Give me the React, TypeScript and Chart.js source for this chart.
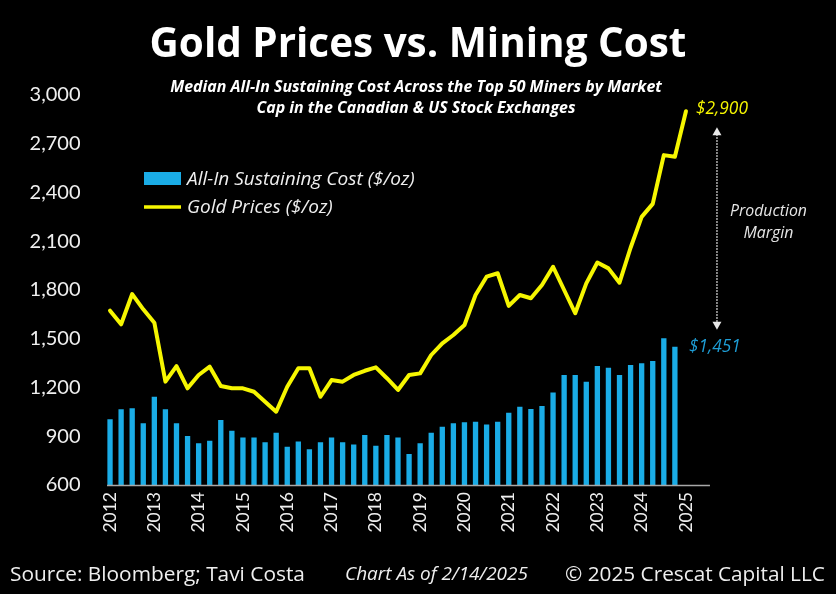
import React, { useEffect, useRef } from "react";
import { Chart, registerables } from "chart.js";

Chart.register(...registerables);

const YEARS = [2012, 2013, 2014, 2015, 2016, 2017, 2018, 2019, 2020, 2021, 2022, 2023, 2024];
const QUARTERS = ["Q1", "Q2", "Q3", "Q4"];
const categories: string[] = [];
YEARS.forEach((y) => QUARTERS.forEach((q) => categories.push(`${y} ${q}`)));
categories.push("2025 Q1");

// All-In Sustaining Cost ($/oz), quarterly 2012 Q1 - 2024 Q4
const aisc: (number | null)[] = [
  1004, 1066, 1072, 980, 1143, 1066, 980, 902, 857, 873, 1000, 934, 893,
  893, 863, 922, 836, 867, 820, 863, 893, 863, 850, 908, 842, 908, 893,
  791, 857, 922, 959, 980, 986, 990, 973, 990, 1045, 1082, 1068, 1086,
  1170, 1277, 1277, 1236, 1332, 1322, 1277, 1338, 1349, 1363, 1503, 1451,
  null,
];

// Gold price ($/oz), quarterly 2012 Q1 - 2025 Q1
const gold: number[] = [
  1673, 1589, 1775, 1681, 1599, 1236, 1332, 1195, 1277, 1328, 1209, 1195,
  1195, 1174, 1113, 1051, 1205, 1318, 1318, 1143, 1246, 1236, 1277, 1303,
  1324, 1257, 1185, 1277, 1287, 1400, 1472, 1523, 1585, 1769, 1882, 1903,
  1702, 1769, 1749, 1831, 1943, 1800, 1657, 1841, 1969, 1933, 1845, 2060,
  2250, 2330, 2630, 2620, 2900,
];

const yTicks = [600, 900, 1200, 1500, 1800, 2100, 2400, 2700, 3000];

const TITLE = "Gold Prices vs. Mining Cost";
const SUBTITLE = [
  "Median All-In Sustaining Cost Across the Top 50 Miners by Market",
  "Cap in the Canadian & US Stock Exchanges",
];
const LEGEND_BAR = "All-In Sustaining Cost ($/oz)";
const LEGEND_LINE = "Gold Prices ($/oz)";
const GOLD_LABEL = "$2,900";
const AISC_LABEL = "$1,451";
const MARGIN_LABEL = ["Production", "Margin"];
const SOURCE = "Source: Bloomberg; Tavi Costa";
const ASOF = "Chart As of 2/14/2025";
const COPY = "© 2025 Crescat Capital LLC";

const BLUE = "#1AACE6";
const BLUE_TEXT = "#1E9ED6";
const YELLOW = "#F6F600";
const TEXT = "#EFEFEF";
const FONT = "Lato, 'DejaVu Sans', sans-serif";
const WIDE = "'Open Sans', 'DejaVu Sans', sans-serif";

function sizeFor(ctx: CanvasRenderingContext2D, text: string, style: string, family: string, width: number) {
  ctx.font = `${style} 100px ${family}`;
  const w = ctx.measureText(text).width;
  return (100 * width) / w;
}

const decorPlugin = {
  id: "decor",
  afterDraw(chart: any) {
    const ctx = chart.ctx as CanvasRenderingContext2D;
    const xs = chart.scales.x;
    const ys = chart.scales.y;
    const area = chart.chartArea;
    ctx.save();

    // x axis line
    ctx.strokeStyle = "#A8A8A8";
    ctx.lineWidth = 1.5;
    ctx.beginPath();
    ctx.moveTo(xs.getPixelForValue(0) - 3, area.bottom + 0.5);
    ctx.lineTo(xs.getPixelForValue(categories.length - 1) + 24, area.bottom + 0.5);
    ctx.stroke();

    ctx.textBaseline = "alphabetic";

    // title
    ctx.fillStyle = "#FFFFFF";
    ctx.textAlign = "center";
    let s = sizeFor(ctx, TITLE, "bold", WIDE, 537);
    ctx.font = `bold ${s}px ${WIDE}`;
    ctx.fillText(TITLE, 418, 57);

    // subtitle
    s = sizeFor(ctx, SUBTITLE[0], "italic bold", WIDE, 492);
    ctx.font = `italic bold ${s}px ${WIDE}`;
    ctx.fillText(SUBTITLE[0], 416, 92);
    ctx.fillText(SUBTITLE[1], 416, 113);

    // legend
    ctx.textAlign = "left";
    ctx.fillStyle = BLUE;
    ctx.fillRect(144, 172, 37, 13);
    ctx.strokeStyle = YELLOW;
    ctx.lineWidth = 3.5;
    ctx.beginPath();
    ctx.moveTo(144, 207);
    ctx.lineTo(181, 207);
    ctx.stroke();
    ctx.fillStyle = TEXT;
    s = sizeFor(ctx, LEGEND_BAR, "italic", WIDE, 228);
    ctx.font = `italic ${s}px ${WIDE}`;
    ctx.fillText(LEGEND_BAR, 187, 184.5);
    ctx.fillText(LEGEND_LINE, 187, 213);

    // end labels
    const lastIdx = gold.length - 1;
    const gx = xs.getPixelForValue(lastIdx);
    const gy = ys.getPixelForValue(gold[lastIdx]);
    s = sizeFor(ctx, GOLD_LABEL, "italic", WIDE, 52);
    ctx.font = `italic ${s}px ${WIDE}`;
    ctx.fillStyle = YELLOW;
    ctx.fillText(GOLD_LABEL, gx + 10, gy + 3);
    const bIdx = 51;
    const bx = xs.getPixelForValue(bIdx);
    const by = ys.getPixelForValue(aisc[bIdx] as number);
    ctx.fillStyle = BLUE_TEXT;
    ctx.fillText(AISC_LABEL, bx + 14, by + 5);

    // production margin arrow
    const ax = gx + 31;
    const top = gy + 16;
    const bottom = by - 17;
    ctx.strokeStyle = "#E8E8E8";
    ctx.lineWidth = 1.5;
    ctx.setLineDash([1.5, 1.5]);
    ctx.beginPath();
    ctx.moveTo(ax, top + 7);
    ctx.lineTo(ax, bottom - 7);
    ctx.stroke();
    ctx.setLineDash([]);
    ctx.fillStyle = "#E8E8E8";
    ctx.beginPath();
    ctx.moveTo(ax, top);
    ctx.lineTo(ax - 4.5, top + 8);
    ctx.lineTo(ax + 4.5, top + 8);
    ctx.closePath();
    ctx.fill();
    ctx.beginPath();
    ctx.moveTo(ax, bottom);
    ctx.lineTo(ax - 4.5, bottom - 8);
    ctx.lineTo(ax + 4.5, bottom - 8);
    ctx.closePath();
    ctx.fill();

    ctx.textAlign = "center";
    s = sizeFor(ctx, MARGIN_LABEL[0], "italic", WIDE, 77);
    ctx.font = `italic ${s}px ${WIDE}`;
    ctx.fillStyle = "#E6E6E6";
    ctx.fillText(MARGIN_LABEL[0], 768.5, 216);
    ctx.fillText(MARGIN_LABEL[1], 768.5, 237.5);

    // footer
    ctx.textAlign = "left";
    ctx.textBaseline = "middle";
    ctx.fillStyle = TEXT;
    s = sizeFor(ctx, SOURCE, "", WIDE, 295);
    ctx.font = `${s}px ${WIDE}`;
    ctx.fillText(SOURCE, 10, 575);
    s = sizeFor(ctx, COPY, "", WIDE, 260);
    ctx.font = `${s}px ${WIDE}`;
    ctx.fillText(COPY, 565, 575);
    s = sizeFor(ctx, ASOF, "italic", WIDE, 183);
    ctx.font = `italic ${s}px ${WIDE}`;
    ctx.fillText(ASOF, 345, 575);

    ctx.restore();
  },
};

export default function App() {
  const ref = useRef<HTMLCanvasElement | null>(null);

  useEffect(() => {
    if (!ref.current) return;
    const chart = new Chart(ref.current, {
      type: "bar",
      data: {
        labels: categories,
        datasets: [
          {
            type: "line",
            label: LEGEND_LINE,
            data: gold,
            borderColor: YELLOW,
            backgroundColor: YELLOW,
            borderWidth: 4,
            pointRadius: 0,
            tension: 0,
            borderJoinStyle: "round",
            borderCapStyle: "round",
            order: 0,
          } as any,
          {
            type: "bar",
            label: LEGEND_BAR,
            data: aisc,
            backgroundColor: BLUE,
            barPercentage: 0.48,
            categoryPercentage: 1,
            order: 1,
          } as any,
        ],
      },
      options: {
        responsive: true,
        maintainAspectRatio: false,
        animation: false,
        layout: { padding: { left: 0, right: 144.5, top: 95, bottom: 49 } },
        plugins: {
          legend: { display: false },
          tooltip: { enabled: false },
          title: { display: false },
        },
        scales: {
          x: {
            offset: true,
            grid: { display: false, drawTicks: false },
            border: { display: false },
            ticks: {
              color: TEXT,
              font: { family: FONT, size: 17.5 },
              autoSkip: false,
              minRotation: 90,
              maxRotation: 90,
              padding: 7,
              callback: (_v: any, i: number) =>
                i % 4 === 0 ? categories[i].slice(0, 4) : "",
            },
            afterFit: (sc: any) => {
              sc.height = 60;
            },
          },
          y: {
            min: yTicks[0],
            max: yTicks[yTicks.length - 1],
            grid: { display: false, drawTicks: false },
            border: { display: false },
            afterBuildTicks: (sc: any) => {
              sc.ticks = yTicks.map((v) => ({ value: v }));
            },
            ticks: {
              color: TEXT,
              font: { family: FONT, size: 20 },
              padding: 24,
              callback: (v: any) => Number(v).toLocaleString("en-US"),
            },
            afterFit: (sc: any) => {
              sc.width = 104.5;
            },
          },
        },
      },
      plugins: [decorPlugin],
    });
    return () => chart.destroy();
  }, []);

  return (
    <div
      style={{
        position: "fixed",
        left: 0,
        top: 0,
        width: 836,
        height: 594,
        background: "#000",
      }}
    >
      <canvas ref={ref} />
    </div>
  );
}
